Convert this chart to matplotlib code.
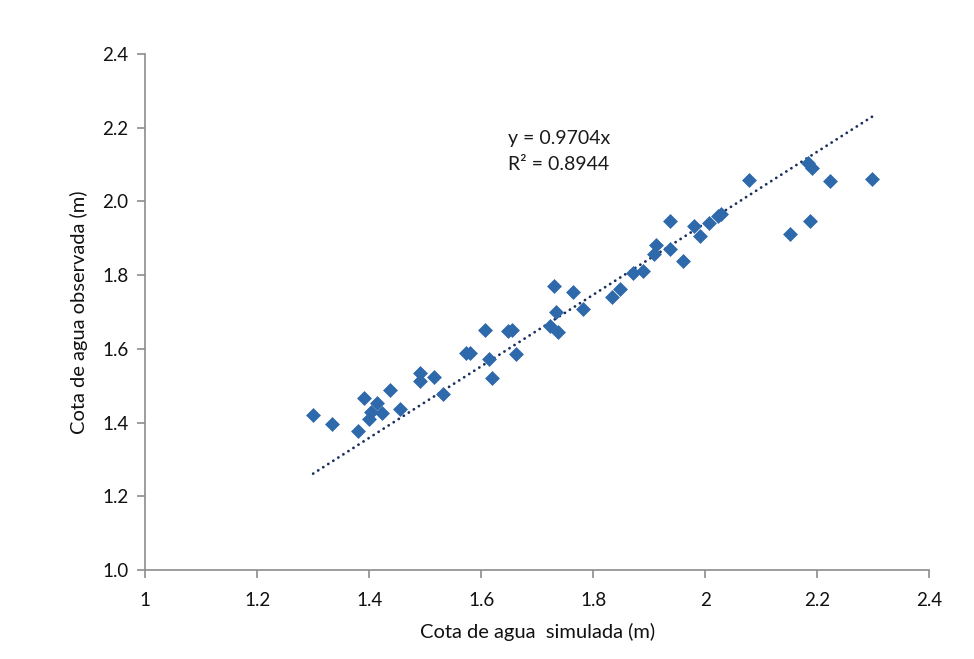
import matplotlib
matplotlib.use("Agg")
import matplotlib.pyplot as plt
import numpy as np

sim = [1.300, 1.334, 1.380, 1.391, 1.400, 1.404, 1.414, 1.423, 1.4375, 1.455,
       1.491, 1.491, 1.516, 1.532, 1.573, 1.580, 1.607, 1.614, 1.620, 1.648,
       1.655, 1.6625, 1.723, 1.730, 1.734, 1.7375, 1.764, 1.782, 1.834, 1.848,
       1.871, 1.889, 1.909, 1.9125, 1.9375, 1.9375, 1.961, 1.980, 1.991, 2.007,
       2.023, 2.029, 2.079, 2.184, 2.191, 2.152, 2.1875, 2.223, 2.298]
obs = [1.420, 1.395, 1.377, 1.467, 1.410, 1.430, 1.453, 1.426, 1.488, 1.436,
       1.512, 1.534, 1.524, 1.477, 1.590, 1.590, 1.651, 1.572, 1.521, 1.648,
       1.651, 1.586, 1.662, 1.770, 1.700, 1.646, 1.754, 1.708, 1.741, 1.762,
       1.806, 1.811, 1.857, 1.882, 1.871, 1.947, 1.838, 1.933, 1.906, 1.941,
       1.960, 1.966, 2.058, 2.104, 2.091, 1.912, 1.947, 2.055, 2.061]
slope = 0.9704
r2 = 0.8944
x_ticks = [1, 1.2, 1.4, 1.6, 1.8, 2, 2.2, 2.4]
x_tick_labels = ["1", "1.2", "1.4", "1.6", "1.8", "2", "2.2", "2.4"]
y_ticks = [1.0, 1.2, 1.4, 1.6, 1.8, 2.0, 2.2, 2.4]
y_tick_labels = ["1.0", "1.2", "1.4", "1.6", "1.8", "2.0", "2.2", "2.4"]

plt.rcParams['font.family'] = ['Lato', 'DejaVu Sans']

fig = plt.figure(figsize=(9.74, 6.59), dpi=100)
ax = fig.add_axes([0.149, 0.135, 0.805, 0.783])

ax.scatter(sim, obs, marker='D', s=50, color='#2E69AB', edgecolors='#2E69AB',
           linewidths=0.5, zorder=3)

xl = np.array([min(sim), max(sim)])
ax.plot(xl, slope * xl, linestyle=(0, (0.05, 2.1)), color='#1B2F5E',
        linewidth=2.0, dash_capstyle='round', solid_capstyle='round', zorder=2)

ax.text(1.648, 2.172, f"y = {slope:.4f}x", fontsize=14, va='center', ha='left', color='#1a1a1a')
ax.text(1.648, 2.099, f"R² = {r2:.4f}", fontsize=14, va='center', ha='left', color='#1a1a1a')

ax.set_xlim(1, 2.4)
ax.set_ylim(1.0, 2.4)
ax.set_xticks(x_ticks)
ax.set_xticklabels(x_tick_labels, fontsize=13.5)
ax.set_yticks(y_ticks)
ax.set_yticklabels(y_tick_labels, fontsize=13.5)

for s in ['top', 'right']:
    ax.spines[s].set_visible(False)
for s in ['left', 'bottom']:
    ax.spines[s].set_color('#8C8C8C')
    ax.spines[s].set_linewidth(1.2)
ax.tick_params(axis='both', direction='out', length=6, width=1.2, color='#8C8C8C',
               labelcolor='#111111')
ax.tick_params(axis='x', pad=10)
ax.tick_params(axis='y', pad=6)

ax.set_xlabel("Cota de agua  simulada (m)", fontsize=14.5, labelpad=10, color='#111111')
ax.set_ylabel("Cota de agua observada (m)", fontsize=14.5, labelpad=10, color='#111111')

fig.savefig("out.png", dpi=100)
